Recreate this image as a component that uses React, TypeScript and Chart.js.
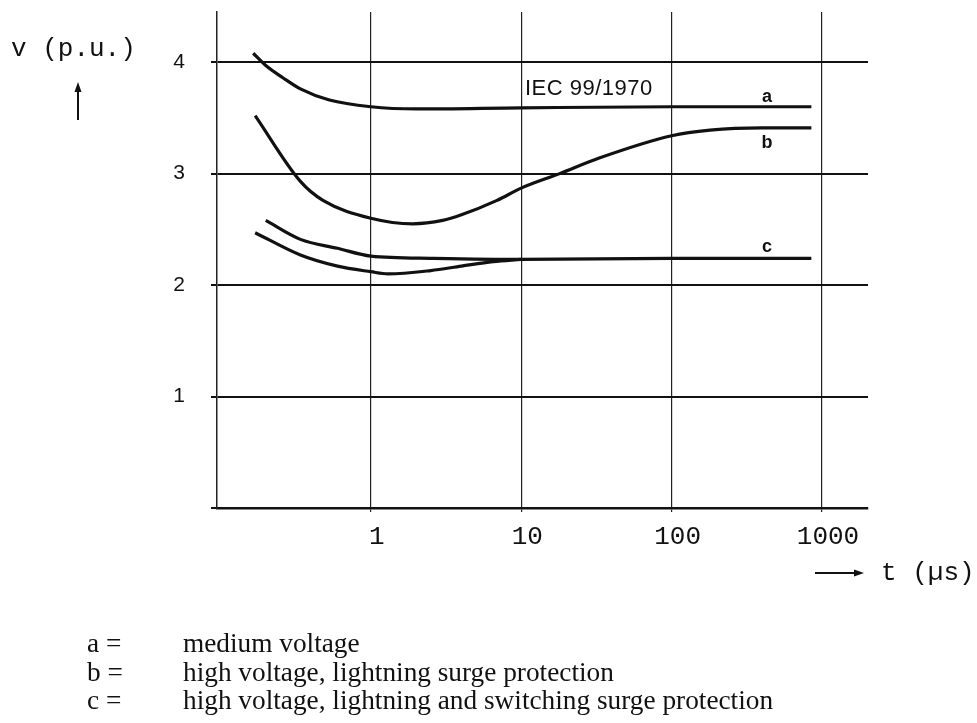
import React, { useEffect, useRef } from "react";
import { Chart, registerables } from "chart.js";

Chart.register(...registerables);

// Curve a: medium voltage
const aT = [0.165, 0.2, 0.26, 0.34, 0.53, 1, 2, 10, 100, 850];
const aV = [4.08, 3.97, 3.86, 3.76, 3.66, 3.6, 3.58, 3.59, 3.6, 3.6];
// Curve b: high voltage, lightning surge protection
const bT = [0.17, 0.34, 0.48, 1, 1.9, 3, 4, 6.9, 10, 18, 33, 100, 180, 400, 850];
const bV = [3.52, 2.93, 2.76, 2.6, 2.55, 2.58, 2.63, 2.76, 2.87, 3.0, 3.14, 3.34, 3.39, 3.41, 3.41];
// Curve c (upper branch)
const cT = [0.2, 0.34, 0.6, 1, 2.6, 10, 100, 850];
const cV = [2.58, 2.41, 2.33, 2.26, 2.24, 2.23, 2.24, 2.24];
// Curve c (lower branch)
const c2T = [0.17, 0.34, 0.6, 1, 1.3, 2.5, 4, 6.5, 10];
const c2V = [2.47, 2.27, 2.17, 2.12, 2.1, 2.13, 2.17, 2.21, 2.23];

const xTicks = [1, 10, 100, 1000];
const xTickLabels = ["1", "10", "100", "1000"];
const yTicks = [0, 1, 2, 3, 4];
const yTickLabels = ["", "1", "2", "3", "4"];

const legendKeys = ["a =", "b =", "c ="];
const legendTexts = [
  "medium voltage",
  "high voltage, lightning surge protection",
  "high voltage, lightning and switching surge protection",
];

const toPts = (t: number[], v: number[]) => t.map((x, i) => ({ x, y: v[i] }));

export default function App() {
  const ref = useRef<HTMLCanvasElement | null>(null);

  useEffect(() => {
    if (!ref.current) return;
    const line = (data: { x: number; y: number }[]) => ({
      data,
      borderColor: "#111",
      borderWidth: 3.2,
      pointRadius: 0,
      cubicInterpolationMode: "monotone" as const,
      fill: false,
    });
    const chart = new Chart(ref.current, {
      type: "line",
      data: {
        datasets: [
          line(toPts(aT, aV)),
          line(toPts(bT, bV)),
          line(toPts(cT, cV)),
          line(toPts(c2T, c2V)),
        ],
      },
      options: {
        responsive: false,
        animation: false,
        devicePixelRatio: 1,
        layout: { padding: { top: 12, right: 109, left: 0, bottom: 0 } },
        plugins: { legend: { display: false }, tooltip: { enabled: false } },
        scales: {
          x: {
            type: "logarithmic",
            min: 0.0948,
            max: 2023,
            afterBuildTicks: (s: any) => {
              s.ticks = xTicks.map((v) => ({ value: v }));
            },
            afterFit: (s: any) => {
              s.height = 215;
              s.paddingLeft = 0;
              s.paddingRight = 0;
            },
            ticks: {
              callback: (v: any) => {
                const i = xTicks.indexOf(Number(v));
                return i >= 0 ? xTickLabels[i] : "";
              },
              autoSkip: false,
              maxRotation: 0,
              color: "#111",
              padding: 10,
              labelOffset: 6,
              font: { family: "Liberation Mono", size: 26 },
            },
            grid: { color: "#222", lineWidth: 1.2, tickLength: 4 },
            border: { display: true, color: "#111", width: 2.5 },
          },
          y: {
            type: "linear",
            min: 0,
            max: 4.45,
            afterBuildTicks: (s: any) => {
              s.ticks = yTicks.map((v) => ({ value: v }));
            },
            afterFit: (s: any) => {
              s.width = 217;
              s.paddingTop = 0;
              s.paddingBottom = 0;
            },
            ticks: {
              callback: (v: any) => {
                const i = yTicks.indexOf(Number(v));
                return i >= 0 ? yTickLabels[i] : "";
              },
              color: "#111",
              padding: 26,
              font: { family: "Liberation Sans", size: 21 },
            },
            grid: { color: "#111", lineWidth: 2, tickLength: 6 },
            border: { display: true, color: "#222", width: 1.5 },
          },
        },
      },
    });
    return () => chart.destroy();
  }, []);

  const abs = (o: React.CSSProperties): React.CSSProperties => ({
    position: "absolute",
    whiteSpace: "nowrap",
    margin: 0,
    ...o,
  });
  const mono: React.CSSProperties = { fontFamily: "Liberation Mono", fontSize: 26, lineHeight: "26px", color: "#111" };
  const curveLbl: React.CSSProperties = {
    fontFamily: "Liberation Sans",
    fontWeight: "bold",
    fontSize: 18,
    lineHeight: "18px",
    color: "#111",
    transform: "translate(-50%, -50%)",
  };
  const serif: React.CSSProperties = { fontFamily: "Liberation Serif", fontSize: 27.3, lineHeight: "27px", color: "#111" };

  return (
    <div style={{ position: "absolute", left: 0, top: 0, width: 977, height: 723, background: "#fff" }}>
      <canvas ref={ref} width={977} height={723} style={{ position: "absolute", left: 0, top: 0, width: 977, height: 723 }} />
      <div style={abs({ left: 11, top: 36, ...mono })}>v (p.u.)</div>
      <div style={abs({ left: 881, top: 560, ...mono })}>t (µs)</div>
      <svg width={977} height={723} style={{ position: "absolute", left: 0, top: 0, pointerEvents: "none" }}>
        <line x1={78} y1={120} x2={78} y2={88} stroke="#111" strokeWidth={2} />
        <polygon points="78,82 74.5,92 81.5,92" fill="#111" />
        <line x1={815} y1={573} x2={857} y2={573} stroke="#111" strokeWidth={2} />
        <polygon points="864,573 854,569.5 854,576.5" fill="#111" />
      </svg>
      <div style={abs({ left: 525, top: 76, fontFamily: "Liberation Sans", fontSize: 22, lineHeight: "24px", letterSpacing: 0.5, color: "#111" })}>
        IEC 99/1970
      </div>
      <div style={abs({ left: 767, top: 96, ...curveLbl })}>a</div>
      <div style={abs({ left: 767, top: 142, ...curveLbl })}>b</div>
      <div style={abs({ left: 767, top: 246, ...curveLbl })}>c</div>
      {legendKeys.map((k, i) => (
        <React.Fragment key={k}>
          <div style={abs({ left: 87, top: 630 + i * 28.5, ...serif })}>{k}</div>
          <div style={abs({ left: 183, top: 630 + i * 28.5, ...serif })}>{legendTexts[i]}</div>
        </React.Fragment>
      ))}
    </div>
  );
}
